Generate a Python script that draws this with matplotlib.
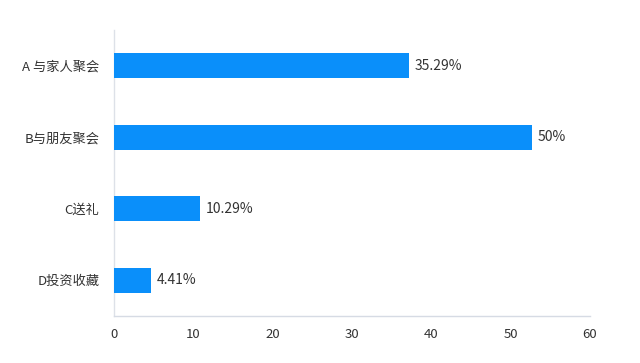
import matplotlib
matplotlib.use("Agg")
import matplotlib.pyplot as plt

plt.rcParams['font.family'] = ['Noto Sans CJK SC', 'DejaVu Sans']

categories = ["A 与家人聚会", "B与朋友聚会", "C送礼", "D投资收藏"]
values = [35.29, 50, 10.29, 4.41]
value_labels = ["35.29%", "50%", "10.29%", "4.41%"]
xticks = [0, 10, 20, 30, 40, 50, 60]

fig = plt.figure(figsize=(6.4, 3.63), dpi=100)
rect = [114/640, 1 - 316/363, (590 - 114)/640, (316 - 30)/363]
ax = fig.add_axes(rect)
# bars are drawn on their own scale, as in the reference (bars slightly longer than the tick scale)
axb = fig.add_axes(rect, sharey=ax)
axb.set_xlim(0, 57)
axb.axis('off')

ypos = list(range(len(categories)))
axb.barh(ypos, values, height=0.35, color='#0a8ffa', zorder=2)
ax.set_ylim(len(categories) - 0.5, -0.5)
ax.set_xlim(0, 60)
ax.set_xticks(xticks)
ax.set_xticklabels([str(t) for t in xticks], fontsize=9.5, color='#333333')
ax.set_yticks(ypos)
ax.set_yticklabels(categories, fontsize=9.5, color='#333333')
ax.tick_params(axis='x', length=0, pad=9)
ax.tick_params(axis='y', length=0, pad=10.5)

for s in ['top', 'right']:
    ax.spines[s].set_visible(False)
ax.spines['left'].set_color('#dde1e8')
ax.spines['bottom'].set_color('#d6dbe4')
ax.spines['left'].set_linewidth(1)
ax.spines['bottom'].set_linewidth(1)

for y, v, lab in zip(ypos, values, value_labels):
    axb.text(v + 0.75, y, lab, va='center', ha='left', fontsize=10, color='#333333')

fig.savefig("out.png", dpi=100)
